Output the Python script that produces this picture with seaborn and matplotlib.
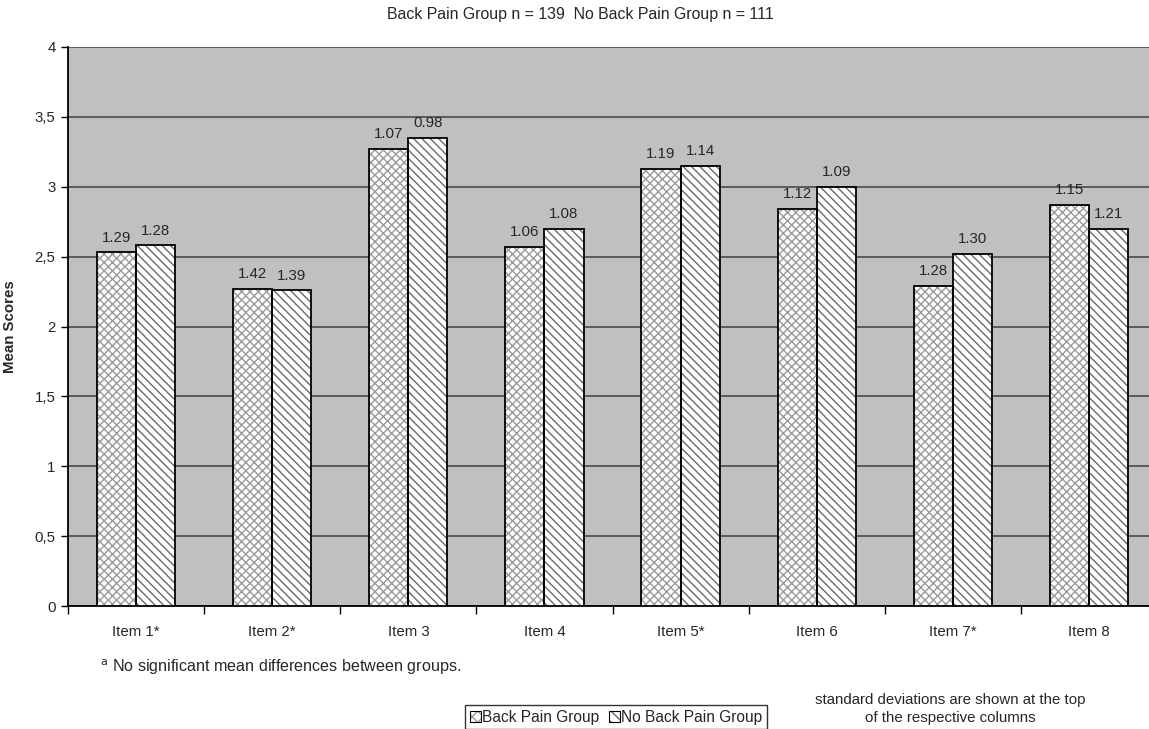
import matplotlib
matplotlib.use("Agg")
import matplotlib.pyplot as plt
import seaborn as sns
import pandas as pd
import numpy as np
from matplotlib.patches import Patch, Rectangle
from matplotlib.ticker import MultipleLocator, FuncFormatter

items = ["Item 1*", "Item 2*", "Item 3", "Item 4", "Item 5*", "Item 6", "Item 7*", "Item 8"]
groups = ["Back Pain Group", "No Back Pain Group"]
back_pain_means = [2.53, 2.27, 3.27, 2.57, 3.13, 2.84, 2.29, 2.87]
no_back_pain_means = [2.58, 2.26, 3.35, 2.70, 3.15, 3.00, 2.52, 2.70]
back_pain_sd = ["1.29", "1.42", "1.07", "1.06", "1.19", "1.12", "1.28", "1.15"]
no_back_pain_sd = ["1.28", "1.39", "0.98", "1.08", "1.14", "1.09", "1.30", "1.21"]

df = pd.DataFrame({
    "item": items * 2,
    "group": [groups[0]] * len(items) + [groups[1]] * len(items),
    "mean": back_pain_means + no_back_pain_means,
})

sns.set_style("white")
plt.rcParams["font.family"] = ["Liberation Sans", "DejaVu Sans"]
plt.rcParams["hatch.linewidth"] = 1.0
FS = 10.8

fig = plt.figure(figsize=(11.49, 7.29), dpi=100)
W, H = 1149, 729
ax = fig.add_axes([68 / W, 1 - 606 / H, (1157 - 68) / W, (606 - 47) / H])
ax.set_facecolor("#c0c0c0")

sns.barplot(data=df, x="item", y="mean", hue="group", order=items, hue_order=groups,
            palette=["white", "white"], width=0.574, gap=0, edgecolor="black",
            linewidth=1.3, saturation=1, ax=ax, legend=False, zorder=3)

# fill patterns: hatch colour follows the bar edge colour, so the black outline
# is drawn as a separate unfilled rectangle on top of each bar
hatches = ["xxxx", "\\\\\\\\"]
hatch_colors = ["#9a9a9a", "#6a6a6a"]
sds = [back_pain_sd, no_back_pain_sd]
for cont, hatch, hc, sd in zip(ax.containers, hatches, hatch_colors, sds):
    for bar in cont:
        bar.set_hatch(hatch)
        bar.set_edgecolor(hc)
        bar.set_linewidth(0)
        bar.set_zorder(3)
        ax.add_patch(Rectangle(bar.get_xy(), bar.get_width(), bar.get_height(),
                               fill=False, edgecolor="black", linewidth=1.3, zorder=4))
    ax.bar_label(cont, labels=sd, padding=5.5, fontsize=FS)

ax.set_ylim(0, 4)
ax.set_xlim(-0.5, len(items) - 0.5)
ax.yaxis.set_major_locator(MultipleLocator(0.5))
ax.yaxis.set_major_formatter(FuncFormatter(lambda v, p: f"{v:g}".replace(".", ",")))
ax.grid(axis="y", color="#404040", linewidth=1.1, zorder=1)
ax.set_axisbelow(True)

ax.set_xticks(range(len(items)))
ax.set_xticklabels(items, fontsize=FS)
ax.set_xticks(np.arange(-0.5, len(items)), minor=True)
ax.tick_params(axis="x", which="major", length=0, pad=14)
ax.tick_params(axis="x", which="minor", length=6, width=1, color="black", direction="out")
ax.tick_params(axis="y", length=5, width=1, color="black", direction="out", labelsize=FS, pad=4)
ax.tick_params(bottom=True, left=True)
ax.xaxis.set_tick_params(which="minor", bottom=True)

for s in ["top", "right"]:
    ax.spines[s].set_visible(False)
for s in ["left", "bottom"]:
    ax.spines[s].set_color("black")
    ax.spines[s].set_linewidth(1.3)

ax.set_xlabel("")
ax.set_ylabel("Mean Scores", fontsize=FS, fontweight="bold")
ax.yaxis.set_label_coords(-(68 - 17) / (1157 - 68), 0.5)

fig.text(580 / W, 1 - 15 / H, "Back Pain Group n = 139  No Back Pain Group n = 111",
         ha="center", va="center", fontsize=11.4)
fig.text(100 / W, 1 - 667 / H, r"$^{\mathrm{a}}$ No significant mean differences between groups.",
         ha="left", va="center", fontsize=11.6)
fig.text(950 / W, 1 - 709 / H, "standard deviations are shown at the top\nof the respective columns",
         ha="center", va="center", fontsize=FS, linespacing=1.3)

handles = []
for h, hc in zip(["xxx", "\\\\\\"], hatch_colors):
    handles.append((Patch(facecolor="white", edgecolor=hc, hatch=h, linewidth=0),
                    Patch(facecolor="none", edgecolor="black", linewidth=0.8)))
leg = fig.legend(handles, groups, loc="upper center", bbox_to_anchor=(616 / W, 1 - 705 / H),
                 ncol=2, frameon=True, fancybox=False, fontsize=11.2, handlelength=0.7,
                 handleheight=0.7, handletextpad=0.1, columnspacing=0.6, borderpad=0.3,
                 borderaxespad=0)
leg.get_frame().set_edgecolor("black")
leg.get_frame().set_linewidth(1)

fig.savefig("out.png", dpi=100)
